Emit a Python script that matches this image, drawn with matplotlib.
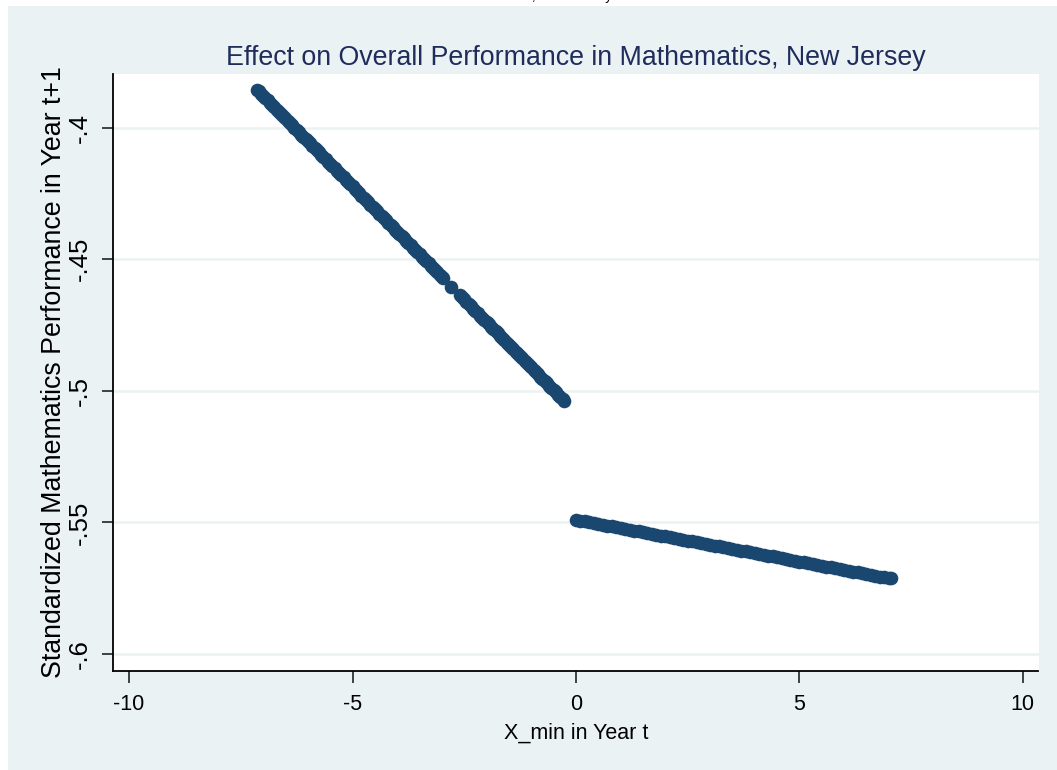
import numpy as np
import matplotlib.pyplot as plt
from matplotlib.patches import Rectangle

# fitted values left of the cutoff
x_left = [-7.13, -7.10, -7.05, -7.00, -6.95, -6.90, -6.85, -6.80, -6.75, -6.70,
          -6.65, -6.60, -6.55, -6.50, -6.45, -6.40, -6.35, -6.30, -6.25, -6.20,
          -6.15, -6.10, -6.05, -6.00, -5.95, -5.90, -5.85, -5.80, -5.75, -5.70,
          -5.65, -5.60, -5.55, -5.50, -5.45, -5.40, -5.35, -5.30, -5.25, -5.20,
          -5.15, -5.10, -5.05, -5.00, -4.95, -4.90, -4.85, -4.80, -4.75, -4.70,
          -4.65, -4.60, -4.55, -4.50, -4.45, -4.40, -4.35, -4.30, -4.25, -4.20,
          -4.15, -4.10, -4.05, -4.00, -3.95, -3.90, -3.85, -3.80, -3.75, -3.70,
          -3.65, -3.60, -3.55, -3.50, -3.45, -3.40, -3.35, -3.30, -3.25, -3.20,
          -3.15, -3.10, -3.05, -3.00, -2.97, -2.79, -2.60, -2.55, -2.50, -2.45,
          -2.40, -2.35, -2.30,
          -2.25, -2.20, -2.15, -2.10, -2.05, -2.00, -1.95, -1.90, -1.85, -1.80,
          -1.75, -1.70, -1.65, -1.60, -1.55, -1.50, -1.45, -1.40, -1.35, -1.30,
          -1.25, -1.20, -1.15, -1.10, -1.05, -1.00, -0.95, -0.90, -0.85, -0.80,
          -0.75, -0.70, -0.65, -0.60, -0.55, -0.50, -0.45, -0.40, -0.35, -0.30,
          -0.26]
y_left = [-0.3857, -0.3862, -0.3871, -0.3879, -0.3888, -0.3896, -0.3905, -0.3914,
          -0.3922, -0.3931, -0.3940, -0.3948, -0.3957, -0.3965, -0.3974, -0.3983,
          -0.3991, -0.4000, -0.4008, -0.4017, -0.4026, -0.4034, -0.4043, -0.4051,
          -0.4060, -0.4069, -0.4077, -0.4086, -0.4094, -0.4103, -0.4112, -0.4120,
          -0.4129, -0.4137, -0.4146, -0.4155, -0.4163, -0.4172, -0.4180, -0.4189,
          -0.4198, -0.4206, -0.4215, -0.4223, -0.4232, -0.4241, -0.4249, -0.4258,
          -0.4266, -0.4275, -0.4284, -0.4292, -0.4301, -0.4309, -0.4318, -0.4327,
          -0.4335, -0.4344, -0.4352, -0.4361, -0.4370, -0.4378, -0.4387, -0.4395,
          -0.4404, -0.4413, -0.4421, -0.4430, -0.4438, -0.4447, -0.4456, -0.4464,
          -0.4473, -0.4481, -0.4490, -0.4499, -0.4507, -0.4516, -0.4524, -0.4533,
          -0.4542, -0.4550, -0.4559, -0.4567, -0.4573, -0.4604, -0.4636, -0.4645,
          -0.4653, -0.4662, -0.4671, -0.4679, -0.4688, -0.4696, -0.4705, -0.4714,
          -0.4722, -0.4731, -0.4739,
          -0.4748, -0.4757, -0.4765, -0.4774, -0.4782, -0.4791, -0.4800, -0.4808,
          -0.4817, -0.4825, -0.4834, -0.4843, -0.4851, -0.4860, -0.4868, -0.4877,
          -0.4886, -0.4894, -0.4903, -0.4911, -0.4920, -0.4929, -0.4937, -0.4946,
          -0.4954, -0.4963, -0.4972, -0.4980, -0.4989, -0.4997, -0.5006, -0.5015,
          -0.5023, -0.5032, -0.5039]

# fitted values right of the cutoff
x_right = [0.0, 0.1, 0.2, 0.3, 0.4, 0.5, 0.6, 0.7, 0.8, 0.9, 1.0, 1.1, 1.2, 1.3,
           1.4, 1.5, 1.6, 1.7, 1.8, 1.9, 2.0, 2.1, 2.2, 2.3, 2.4, 2.5, 2.6, 2.7,
           2.8, 2.9, 3.0, 3.1, 3.2, 3.3, 3.4, 3.5, 3.6, 3.7, 3.8, 3.9, 4.0, 4.1,
           4.2, 4.3, 4.4, 4.5, 4.6, 4.7, 4.8, 4.9, 5.0, 5.1, 5.2, 5.3, 5.4, 5.5,
           5.6, 5.7, 5.8, 5.9, 6.0, 6.1, 6.2, 6.3, 6.4, 6.5, 6.6, 6.7, 6.8, 6.9,
           7.0, 7.05]
y_right = [-0.5490, -0.5493, -0.5496, -0.5500, -0.5503, -0.5506, -0.5509, -0.5512,
           -0.5515, -0.5519, -0.5522, -0.5525, -0.5528, -0.5531, -0.5534, -0.5538,
           -0.5541, -0.5544, -0.5547, -0.5550, -0.5553, -0.5557, -0.5560, -0.5563,
           -0.5566, -0.5569, -0.5572, -0.5576, -0.5579, -0.5582, -0.5585, -0.5588,
           -0.5591, -0.5595, -0.5598, -0.5601, -0.5604, -0.5607, -0.5610, -0.5614,
           -0.5617, -0.5620, -0.5623, -0.5626, -0.5629, -0.5633, -0.5636, -0.5639,
           -0.5642, -0.5645, -0.5649, -0.5652, -0.5655, -0.5658, -0.5661, -0.5664,
           -0.5668, -0.5671, -0.5674, -0.5677, -0.5680, -0.5683, -0.5687, -0.5690,
           -0.5693, -0.5696, -0.5699, -0.5702, -0.5706, -0.5709, -0.5712, -0.5713]

xticks = [-10, -5, 0, 5, 10]
xticklabels = ["-10", "-5", "0", "5", "10"]
yticks = [-0.6, -0.55, -0.5, -0.45, -0.4]
yticklabels = ["-.6", "-.55", "-.5", "-.45", "-.4"]

NAVY = "#1a476f"
REGION = "#eaf2f3"
FONT = ["Liberation Sans", "DejaVu Sans"]

fig = plt.figure(figsize=(10.57, 7.70), dpi=100, facecolor="white")

# graph region background, behind the axes
fig.patches.append(Rectangle((8/1057, 0), 1 - 8/1057, 1 - 6/770,
                             transform=fig.transFigure, facecolor=REGION,
                             edgecolor="none", zorder=-5))
# caption of the previous page, mostly cut off
fig.text(612/1057, 1.0, "Mathematics, New Jersey", ha="right", va="baseline",
         fontsize=10, color="black", family=FONT)

ax = fig.add_axes([113/1057, 1 - 670.5/770, 925.5/1057, 596.5/770])
ax.set_zorder(1)
ax.set_facecolor("white")

for yv in yticks:
    ax.axhline(yv, color=REGION, lw=1.8, zorder=1)

ax.plot(x_left, y_left, "o", ms=9.8, mfc=NAVY, mec="none", zorder=3)
ax.plot(x_right, y_right, "o", ms=9.8, mfc=NAVY, mec="none", zorder=3)

ax.set_xlim(-10.36, 10.35)
ax.set_ylim(-0.6063, -0.3796)

ax.set_xticks(xticks)
ax.set_xticklabels(xticklabels, family=FONT, fontsize=15.5)
ax.set_yticks(yticks)
ax.set_yticklabels(yticklabels, family=FONT, fontsize=18.5, rotation=90,
                   va="center")
ax.tick_params(axis="x", length=8.6, width=1.3, color="#333333", pad=8)
ax.tick_params(axis="y", length=8, width=1.3, color="#333333", pad=7)

for side in ["top", "right"]:
    ax.spines[side].set_visible(False)
for side in ["left", "bottom"]:
    ax.spines[side].set_linewidth(1.3)
    ax.spines[side].set_color("black")

ax.set_xlabel("X_min in Year t", family=FONT, fontsize=15.5, labelpad=6)
ax.set_ylabel("Standardized Mathematics Performance in Year t+1", family=FONT,
              fontsize=19.3, labelpad=1)

fig.text(575.5/1057, 1 - 65/770,
         "Effect on Overall Performance in Mathematics, New Jersey",
         ha="center", va="baseline", fontsize=19.3, color="#1f2c5c", family=FONT)

fig.savefig("out.png", dpi=100, facecolor=fig.get_facecolor())
